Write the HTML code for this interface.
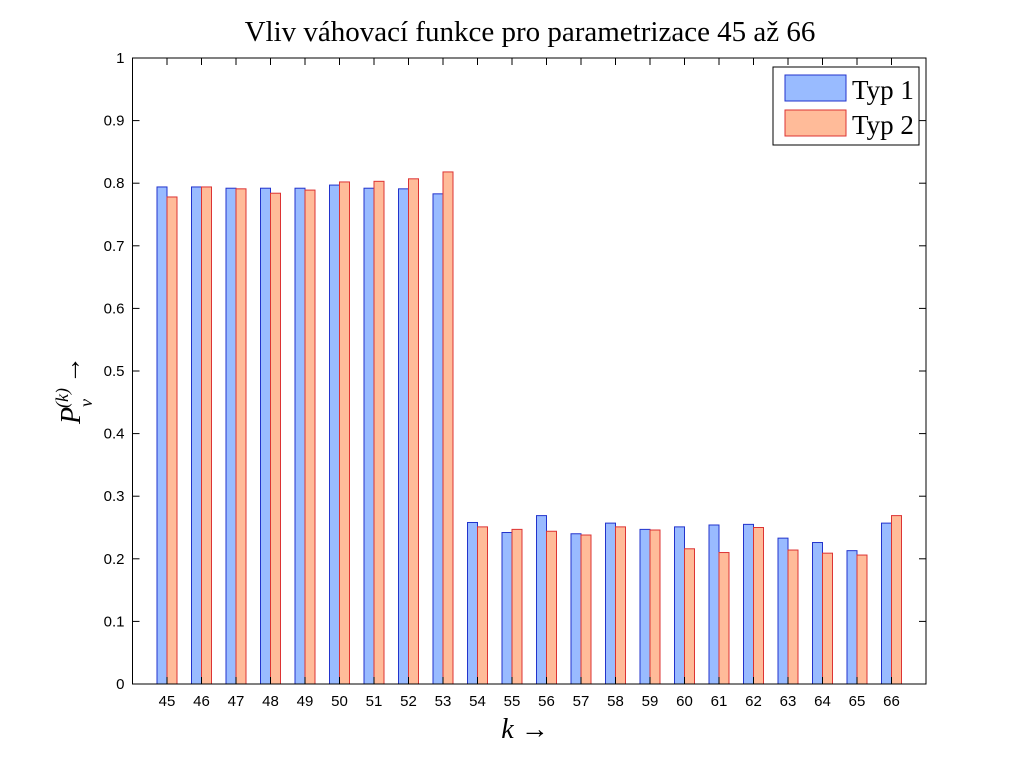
<!DOCTYPE html>
<html><head><meta charset="utf-8"><style>
body{margin:0;background:#fff;}
svg{display:block;}
text{font-family:"Liberation Sans",sans-serif;}
.serif{font-family:"Liberation Serif",serif;}
</style></head><body>
<svg id="chart" width="1024" height="768">
<rect width="1024" height="768" fill="#fff"/>
<text class="serif" x="530" y="41" font-size="29" text-anchor="middle">Vliv váhovací funkce pro parametrizace 45 až 66</text>
<g id="bars"></g>
<g id="axes"></g>
<text class="serif" x="525" y="738" font-size="28" font-style="italic" text-anchor="middle">k →</text>
<g transform="translate(80,390) rotate(-90)">
<text class="serif" x="0" y="0" font-size="28" font-style="italic" text-anchor="middle">P<tspan font-size="18" dy="12">v</tspan><tspan font-size="18" dy="-24" dx="-9">(k)</tspan><tspan dy="12" dx="4" font-style="normal">→</tspan></text>
</g>
<g>
<rect x="773" y="67" width="146" height="78" fill="#fff" stroke="#000" stroke-width="1"/>
<rect x="785" y="75" width="61" height="26" fill="#99bbff" stroke="#2233cc"/>
<text class="serif" x="852" y="99" font-size="27">Typ 1</text>
<rect x="785" y="110" width="61" height="26" fill="#ffbb99" stroke="#dd3333"/>
<text class="serif" x="852" y="134" font-size="27">Typ 2</text>
</g>
</svg>
<script>
const categories=[45,46,47,48,49,50,51,52,53,54,55,56,57,58,59,60,61,62,63,64,65,66];
const typ1=[0.794,0.794,0.792,0.792,0.792,0.797,0.792,0.791,0.783,0.258,0.242,0.269,0.240,0.257,0.247,0.251,0.254,0.255,0.233,0.226,0.213,0.257];
const typ2=[0.778,0.794,0.791,0.784,0.789,0.802,0.803,0.807,0.818,0.251,0.247,0.244,0.238,0.251,0.246,0.216,0.210,0.250,0.214,0.209,0.206,0.269];
const yTicks=[0,0.1,0.2,0.3,0.4,0.5,0.6,0.7,0.8,0.9,1];
const yTickLabels=["0","0.1","0.2","0.3","0.4","0.5","0.6","0.7","0.8","0.9","1"];
const L=132.5,R=926,T=58,B=684,xmin=44,xmax=67;
const xs=v=>L+(v-xmin)/(xmax-xmin)*(R-L);
const ys=v=>B-v*(B-T);
const NS="http://www.w3.org/2000/svg";
const bars=document.getElementById('bars'),axes=document.getElementById('axes');
function mk(tag,attrs,parent){const e=document.createElementNS(NS,tag);for(const k in attrs)e.setAttribute(k,attrs[k]);parent.appendChild(e);return e;}
const bw=10;
categories.forEach((c,i)=>{
  const b1=mk('rect',{x:xs(c)-bw,y:ys(typ1[i]),width:bw,height:ys(0)-ys(typ1[i]),fill:'#99bbff',stroke:'#2233cc','stroke-width':1},bars);
  
  
  const b2=mk('rect',{x:xs(c),y:ys(typ2[i]),width:bw,height:ys(0)-ys(typ2[i]),fill:'#ffbb99',stroke:'#dd3333','stroke-width':1},bars);
  
  
  const t=mk('text',{x:xs(c),y:B+22,'font-size':15,'text-anchor':'middle'},axes);
  t.textContent=c;
  
  
  mk('line',{x1:xs(c),x2:xs(c),y1:B,y2:B-7,stroke:'#000'},axes);
  mk('line',{x1:xs(c),x2:xs(c),y1:T,y2:T+7,stroke:'#000'},axes);
});
yTicks.forEach((v,i)=>{
  mk('line',{x1:L,x2:L+7,y1:ys(v),y2:ys(v),stroke:'#000'},axes);
  mk('line',{x1:R,x2:R-7,y1:ys(v),y2:ys(v),stroke:'#000'},axes);
  const t=mk('text',{x:L-8,y:ys(v)+5,'font-size':15,'text-anchor':'end'},axes);
  t.textContent=yTickLabels[i];
  
  
});
const box=mk('rect',{x:L,y:T,width:R-L,height:B-T,fill:'none',stroke:'#000','stroke-width':1},axes);


</script>
</body></html>
